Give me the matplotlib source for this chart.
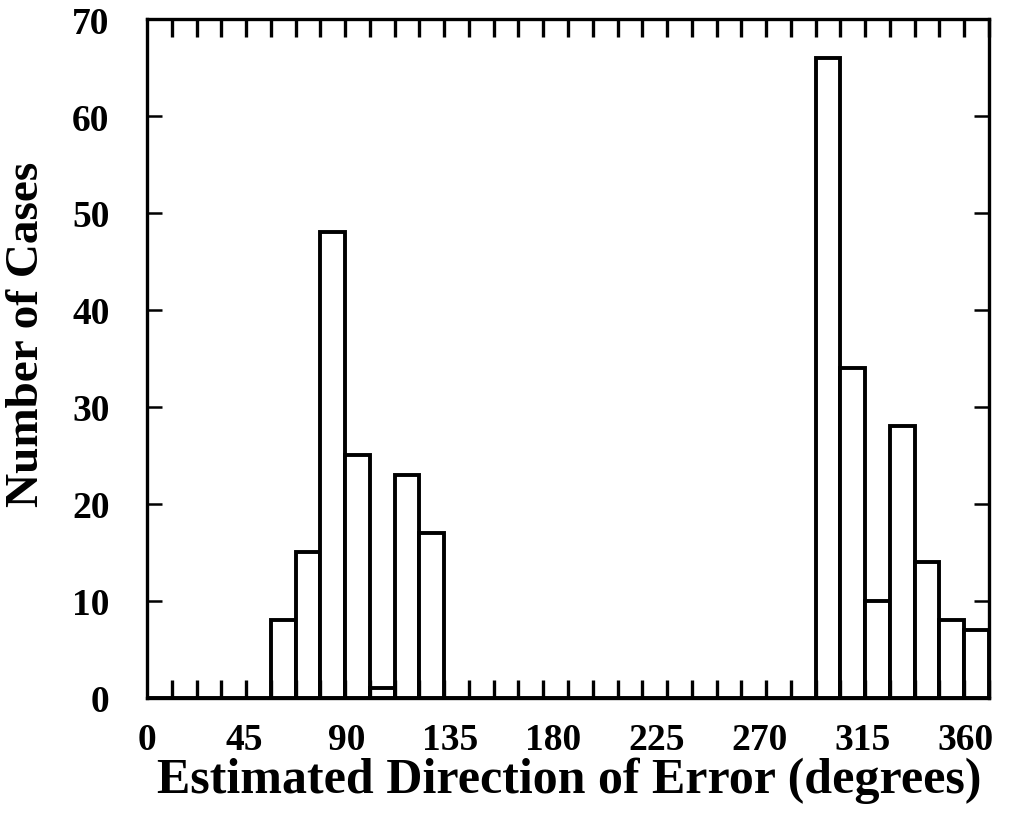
import numpy as np
import matplotlib
matplotlib.use("Agg")
import matplotlib.pyplot as plt

plt.rcParams['font.family'] = ['Liberation Serif', 'DejaVu Serif']
plt.rcParams['font.weight'] = 'bold'

# Число случаев в каждом из 34 интервалов направления ошибки
counts = [0, 0, 0, 0, 0, 8, 15, 48, 25, 1, 23, 17,
          0, 0, 0, 0, 0, 0, 0, 0, 0, 0, 0, 0, 0, 0, 0,
          66, 34, 10, 28, 14, 8, 7]
n_bins = len(counts)

# Подписи оси X (градусы)
deg_labels = [0, 45, 90, 135, 180, 225, 270, 315, 360]
# положение подписей в единицах интервалов
deg_pos = np.clip(np.array(deg_labels) / 360 * 33.28 - 0.24, 0, None)

y_ticks = [0, 10, 20, 30, 40, 50, 60, 70]

fig = plt.figure(figsize=(10.13, 8.2), dpi=100)
ax = fig.add_axes([0.1451, 0.1476, 0.8312, 0.828])

edges = np.arange(n_bins)
ax.bar(edges, counts, width=1, align='edge', facecolor='white',
       edgecolor='black', linewidth=2.8)

ax.set_xlim(0, n_bins)
ax.set_ylim(0, 70)

for s in ax.spines.values():
    s.set_linewidth(2.4)

# подписи градусов без засечек, засечки - на границах интервалов
ax.set_xticks(deg_pos)
ax.set_xticklabels([str(d) for d in deg_labels])
ax.set_xticks(np.arange(n_bins + 1), minor=True)
ax.tick_params(axis='x', which='major', length=0, pad=17, labelsize=27)
ax.tick_params(axis='x', which='minor', direction='in', length=13,
               width=2.4, top=True, bottom=True)

ax.set_yticks(y_ticks)
ax.tick_params(axis='y', which='major', direction='in', length=11,
               width=1.8, left=True, right=True, pad=27, labelsize=27)

ax.set_xlabel("Estimated Direction of Error (degrees)", fontsize=36,
              fontweight='bold', ha='center', va='center')
ax.xaxis.set_label_coords(0.502, -0.12)
ax.set_ylabel("Number of Cases", fontsize=34, fontweight='bold',
              ha='center', va='center')
ax.yaxis.set_label_coords(-0.142, 0.537)

fig.savefig("out.png", dpi=100)
